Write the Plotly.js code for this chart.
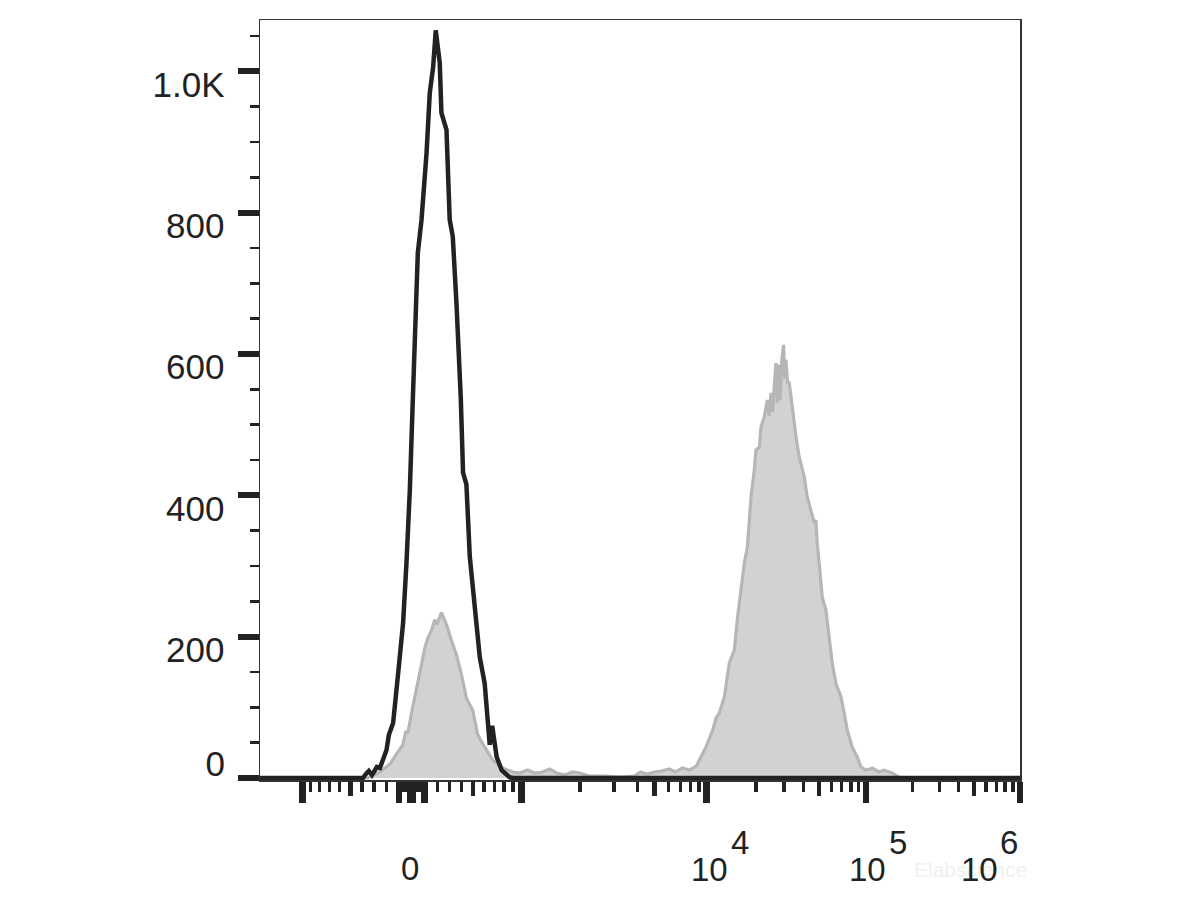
<!DOCTYPE html>
<html>
<head>
<meta charset="utf-8">
<script src="https://cdn.plot.ly/plotly-3.0.1.min.js"></script>
<style>html,body{margin:0;padding:0;background:#fff;}#chart{width:1200px;height:900px;}</style>
</head>
<body>
<div id="chart"></div>
<script>
// ---------- DATA (x in logicle display units, decades from zero; y = cell count) ----------
// Unstained / isotype control (black outline)
var controlDisp = [-0.99, -0.319, -0.299, -0.280, -0.260, -0.228, -0.208, -0.189, -0.165, -0.150, -0.122,
  -0.089, -0.057, -0.035, -0.013, 0.007, 0.026, 0.039, 0.063, 0.096, 0.117, 0.139, 0.156, 0.182, 0.193,
  0.226, 0.247, 0.267, 0.291, 0.319, 0.334, 0.356, 0.378, 0.410, 0.443, 0.475, 0.495, 0.508, 0.524,
  0.540, 0.553, 0.586, 0.638, 0.660, 3.966];
var controlCount = [0, 0, 5.7, 9.9, 4.2, 15.6, 14.2, 25.5, 39.6, 60.8, 77.8,
  148.6, 219.3, 304.2, 407.5, 539.1, 648.1, 742.9, 789.6, 884.4, 969.3, 1006, 1058, 1012, 941,
  917, 790, 766, 672, 539, 432, 415, 313, 242, 171, 134, 82, 47, 74,
  47, 30, 11, 1, 0, 0];

// Stained sample (grey filled)
var stainedDisp = [-0.99, -0.286, -0.208, -0.143, -0.091, -0.059, -0.039, -0.026, -0.002, 0.026, 0.052,
  0.085, 0.104, 0.128, 0.150, 0.163, 0.193, 0.226, 0.258, 0.291, 0.324, 0.356, 0.397, 0.430, 0.475,
  0.527, 0.592, 0.658, 0.703, 0.755, 0.801, 0.853, 0.898, 0.944, 0.996, 1.048, 1.094, 1.159, 1.257,
  1.354, 1.452, 1.491, 1.536, 1.582, 1.628, 1.680, 1.719, 1.764, 1.810, 1.855, 1.886, 1.919, 1.962,
  1.984, 2.005, 2.038, 2.070, 2.103, 2.122, 2.146, 2.168, 2.188, 2.201, 2.212, 2.233, 2.244, 2.266,
  2.277, 2.298, 2.318, 2.330, 2.342, 2.352, 2.363, 2.374, 2.383, 2.393, 2.402, 2.412, 2.424, 2.432,
  2.439, 2.450, 2.461, 2.483, 2.505, 2.526, 2.559, 2.578, 2.602, 2.624, 2.635, 2.643, 2.656, 2.676,
  2.700, 2.721, 2.741, 2.765, 2.798, 2.819, 2.839, 2.871, 2.904, 2.928, 2.961, 3.003, 3.047, 3.079,
  3.132, 3.177, 3.210, 3.966];
var stainedCount = [0, 0, 8.5, 19.8, 36.8, 46.7, 66.5, 63.7, 92, 121.7, 150,
  184, 198, 209, 224, 217, 234, 217, 195, 174, 146, 113, 96, 61, 44,
  25.5, 14.2, 8.5, 7.1, 11.3, 7.1, 8.5, 12.7, 7.1, 4.2, 8.5, 7.1, 2.8, 2.8,
  1.4, 2.8, 8.5, 5.7, 8.5, 9.9, 12.7, 8.5, 14.2, 11.3, 17, 30.1, 44.3, 67.9,
  84.9, 92, 115, 162.7, 181, 224, 266, 304, 327, 369, 398, 436, 464, 468,
  497, 511, 535, 512, 545, 518, 553, 587, 531, 585, 535, 590, 613, 565,
  592, 560, 559, 517, 483, 454, 426, 398, 379, 361, 365, 333, 304, 256,
  238, 200, 163, 134, 115, 92, 68, 44, 30, 16, 11, 14, 8.5, 11,
  7, 1.4, 0, 0];

// Axis tick values (fluorescence intensity) and labels
var majorTickValues = [-1000, -100, -10, 0, 10, 100, 1000, 1e4, 1e5, 1e6];
var midTickValues = [-500, 500, 5000, 5e4, 5e5];
var minorMultipliers = [2, 3, 4, 6, 7, 8, 9];
var minorDecades = [10, 100, 1000, 1e4, 1e5];
var yTickValues = [0, 200, 400, 600, 800, 1000];
var yTickText = ['', '200', '400', '600', '800', '1.0K'];
var yZeroText = ['0'];
var xLabelValues = [0, 1e4, 1e5, 1e6];
var xLabelBase = ['0', '10', '10', '10'];
var xLabelExp = ['', '4', '5', '6'];

// ---------- Logicle (biexponential) display transform ----------
var LP = 3.8, LK = 108.1;
function logicleValue(d) {
  var a = Math.abs(d);
  var v = LK * (Math.pow(10, a) - LP * LP * Math.pow(10, -a / LP) + LP * LP - 1);
  return d < 0 ? -v : v;
}
function toDisplay(v) {
  var lo = -6, hi = 6;
  for (var i = 0; i < 100; i++) {
    var mid = (lo + hi) / 2;
    if (logicleValue(mid) < v) lo = mid; else hi = mid;
  }
  return (lo + hi) / 2;
}

var minorTickValues = [];
minorDecades.forEach(function (dec) {
  minorMultipliers.forEach(function (m) {
    minorTickValues.push(m * dec);
    if (dec <= 100) minorTickValues.push(-m * dec);
  });
});

var xMin = -0.99, xMax = toDisplay(1e6);
var FONT = 'Liberation Sans, Arial, Helvetica, sans-serif';
var INK = '#222222';

var traces = [
  {
    x: stainedDisp, y: stainedCount, type: 'scatter', mode: 'lines',
    fill: 'tozeroy', fillcolor: '#d2d2d2',
    line: { color: '#b6b6b6', width: 3.2 },
    hoverinfo: 'skip'
  },
  {
    x: controlDisp, y: controlCount, type: 'scatter', mode: 'lines',
    line: { color: INK, width: 4.5 },
    hoverinfo: 'skip'
  },
  { x: [], y: [], type: 'scatter', xaxis: 'x2', yaxis: 'y', hoverinfo: 'skip' },
  { x: [], y: [], type: 'scatter', xaxis: 'x', yaxis: 'y2', hoverinfo: 'skip' }
];

var annotations = [{
  xref: 'paper', yref: 'paper', x: 0.935, y: -0.118, xanchor: 'center', yanchor: 'middle',
  text: 'Elabscience', showarrow: false, font: { family: FONT, size: 21, color: '#f0f0f0' }
}];
xLabelValues.forEach(function (v, i) {
  var shiftBase = [-2, 3, 1.7, -41][i];
  var shiftExp = [0, 33.6, 32, -11.5][i];
  annotations.push({
    xref: 'x', yref: 'paper', x: toDisplay(v), y: i === 0 ? -0.1158 : -0.1184,
    xanchor: 'center', yanchor: 'middle', xshift: shiftBase,
    text: xLabelBase[i], showarrow: false, font: { family: FONT, size: 33, color: INK }
  });
  if (xLabelExp[i]) {
    annotations.push({
      xref: 'x', yref: 'paper', x: toDisplay(v), y: -0.0816,
      xanchor: 'center', yanchor: 'middle', xshift: shiftExp,
      text: xLabelExp[i], showarrow: false, font: { family: FONT, size: 33, color: INK }
    });
  }
});

var layout = {
  width: 1200, height: 900,
  margin: { l: 260, r: 179.5, t: 20, b: 120, pad: 0 },
  paper_bgcolor: '#ffffff', plot_bgcolor: '#ffffff',
  showlegend: false,
  xaxis: {
    range: [xMin, xMax], tickmode: 'array',
    tickvals: majorTickValues.map(toDisplay), showticklabels: false,
    ticks: 'outside', ticklen: 21, tickwidth: 6.5, tickcolor: INK,
    showgrid: false, zeroline: false,
    showline: true, mirror: true, linecolor: '#333333', linewidth: 1.5,
    minor: {
      tickmode: 'array', tickvals: minorTickValues.map(toDisplay),
      ticks: 'outside', ticklen: 10, tickwidth: 3.3, tickcolor: INK, showgrid: false
    }
  },
  xaxis2: {
    overlaying: 'x', anchor: 'y', side: 'bottom', range: [xMin, xMax],
    tickmode: 'array', tickvals: midTickValues.map(toDisplay), showticklabels: false,
    ticks: 'outside', ticklen: 15, tickwidth: 4.5, tickcolor: INK,
    showgrid: false, zeroline: false, showline: false
  },
  yaxis: {
    range: [-2.8, 1072.6], tickmode: 'array', tickvals: yTickValues, ticktext: yTickText,
    ticks: 'outside', ticklen: 21, tickwidth: 6, tickcolor: INK,
    tickfont: { family: FONT, size: 35, color: INK },
    ticklabelshift: 13, ticklabelstandoff: 6,
    showgrid: false, zeroline: false,
    showline: true, mirror: true, linecolor: '#333333', linewidth: 1.5,
    minor: { tickmode: 'linear', tick0: 0, dtick: 50, ticks: 'outside', ticklen: 9, tickwidth: 2.7, tickcolor: INK, showgrid: false }
  },
  yaxis2: {
    overlaying: 'y', anchor: 'x', side: 'left', range: [-2.8, 1072.6],
    tickmode: 'array', tickvals: [0], ticktext: yZeroText,
    ticks: 'outside', ticklen: 21, tickwidth: 1, tickcolor: 'rgba(0,0,0,0)',
    tickfont: { family: FONT, size: 35, color: INK },
    ticklabelshift: -14, ticklabelstandoff: 6,
    showgrid: false, zeroline: false, showline: false
  },
  annotations: annotations
};

Plotly.newPlot('chart', traces, layout, { staticPlot: true, displayModeBar: false });
</script>
</body>
</html>
